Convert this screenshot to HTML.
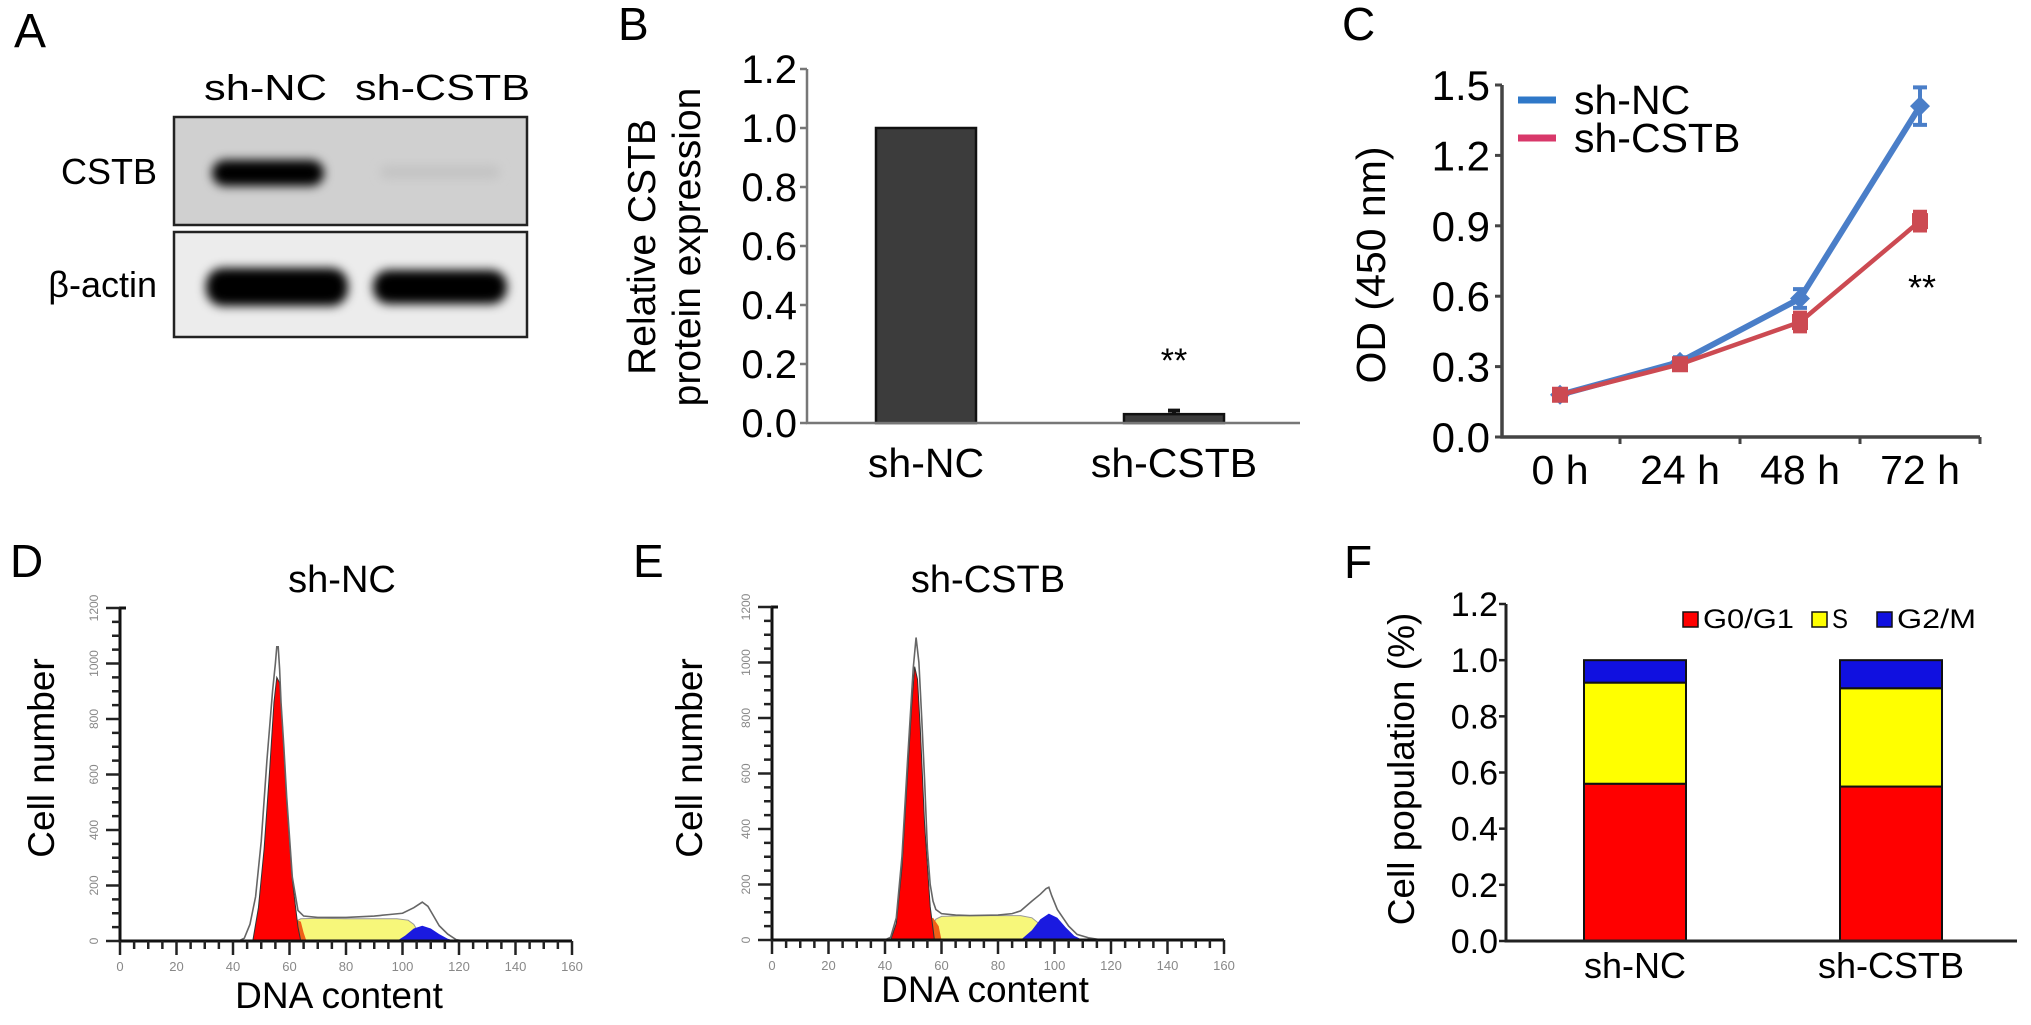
<!DOCTYPE html>
<html><head><meta charset="utf-8"><style>
html,body{margin:0;padding:0;background:#fff;width:2031px;height:1025px;overflow:hidden}
svg{display:block;font-family:"Liberation Sans",Arial,sans-serif}
</style></head><body>
<svg id="fig" width="2031" height="1025" viewBox="0 0 2031 1025" xmlns="http://www.w3.org/2000/svg">
<defs>
<filter id="blur4" x="-20%" y="-50%" width="140%" height="200%"><feGaussianBlur stdDeviation="5"/></filter>
</defs>
<g id="panelA">
<text x="14" y="47" font-size="48">A</text>
<text x="204" y="100" font-size="36" textLength="123" lengthAdjust="spacingAndGlyphs">sh-NC</text>
<text x="355" y="100" font-size="36" textLength="175" lengthAdjust="spacingAndGlyphs">sh-CSTB</text>
<rect x="174" y="117" width="353" height="108" fill="#d0d0d0" stroke="#222" stroke-width="2.5"/>
<rect x="212" y="160" width="112" height="26" rx="13" fill="#000" filter="url(#blur4)"/>
<rect x="380" y="165" width="120" height="14" rx="7" fill="#c4c4c4" filter="url(#blur4)"/>
<rect x="174" y="232" width="353" height="105" fill="#ececec" stroke="#222" stroke-width="2.5"/>
<rect x="206" y="268" width="142" height="38" rx="17" fill="#000" filter="url(#blur4)"/>
<rect x="373" y="270" width="134" height="34" rx="16" fill="#000" filter="url(#blur4)"/>
<text x="157" y="184" font-size="36" text-anchor="end">CSTB</text>
<text x="157" y="297" font-size="36" text-anchor="end">β-actin</text>
</g>
<g id="panelB"></g>
<g id="panelC"></g>
<g id="panelD"></g>
<g id="panelE"></g>
<g id="panelF"></g>
</svg>
<script>
// ---------- data ----------
const bCategories = ["sh-NC","sh-CSTB"];
const bValues = [1.0, 0.03];
const bErrors = [0.0, 0.012];
const bTicks = ["0.0","0.2","0.4","0.6","0.8","1.0","1.2"];

const cCategories = ["0 h","24 h","48 h","72 h"];
const cNC = [0.18, 0.32, 0.59, 1.41];
const cNCerr = [0.02, 0.02, 0.04, 0.08];
const cCSTB = [0.18, 0.31, 0.49, 0.92];
const cCSTBerr = [0.02, 0.02, 0.04, 0.04];
const cTicks = ["0.0","0.3","0.6","0.9","1.2","1.5"];

const histXTicks = ["0","20","40","60","80","100","120","140","160"];
const histYTicks = ["0","200","400","600","800","1000","1200"];
const dRedX = [47,49,51,53,54.5,55.5,56.5,57.5,59,61,63,64];
const dRedY = [0,120,330,620,860,950,930,780,500,220,50,0];
const dOrangeX = [56,58,60,62,64,65,66];
const dOrangeY = [0,30,60,78,70,30,0];
const dYellowX = [58,60,62,64,70,80,90,98,102,104,106,107];
const dYellowY = [0,40,70,80,82,80,80,80,75,60,25,0];
const dBlueX = [98,101,104,107,110,113,116,119];
const dBlueY = [0,20,45,55,45,25,8,0];
const dTotalX = [25,42,44,46,48,50,52,54,55,55.5,56,56.5,57,58,59,61,63,65,70,80,90,95,100,104,107,109,111,113,116,119,122];
const dTotalY = [0,0,10,60,160,360,650,900,1000,1060,1060,980,860,700,520,230,110,90,85,85,90,95,100,120,140,125,90,55,25,5,0];
const eRedX = [42,44,46,48,49.5,50.5,51.5,52.5,54,56,57.5];
const eRedY = [0,60,260,600,850,985,940,760,420,120,0];
const eOrangeX = [51,53,55,57,59,60];
const eOrangeY = [0,40,70,80,50,0];
const eYellowX = [54,56,58,60,70,80,88,92,95,97,98];
const eYellowY = [0,40,75,85,88,88,88,80,55,20,0];
const eBlueX = [88,92,95,98,101,104,107,110];
const eBlueY = [0,35,75,95,80,45,15,0];
const eTotalX = [34,40,42,44,46,48,50,51,52,53,54,55,56,57,58,60,65,70,80,85,88,92,95,97,98,99,101,103,105,108,112,117];
const eTotalY = [0,0,10,80,300,650,980,1090,1000,800,580,330,200,140,110,95,90,88,90,95,105,140,165,185,190,160,110,80,50,20,8,0];

const fCategories = ["sh-NC","sh-CSTB"];
const fG1 = [0.56, 0.55];
const fS = [0.36, 0.35];
const fG2 = [0.08, 0.10];
const fTicks = ["0.0","0.2","0.4","0.6","0.8","1.0","1.2"];
const fLegend = ["G0/G1","S","G2/M"];

// ---------- helpers ----------
const NS = "http://www.w3.org/2000/svg";
function mk(parent, tag, attrs, text){
  const el = document.createElementNS(NS, tag);
  for (const k in attrs) el.setAttribute(k, attrs[k]);
  if (text !== undefined) el.textContent = text;
  parent.appendChild(el);
  return el;
}
const B = document.getElementById("panelB");
const C = document.getElementById("panelC");
const D = document.getElementById("panelD");
const E = document.getElementById("panelE");
const F = document.getElementById("panelF");

// ---------- Panel B ----------
(function(){
  const x0 = 807, x1 = 1300, yb = 423, yt = 69, vmax = 1.2;
  const y = v => yb - v / vmax * (yb - yt);
  const centers = [926, 1174], bw = 100;
  let t = mk(B,"text",{x:618,y:40,"font-size":46});
  t.textContent = "B";
  
  
  bValues.forEach((v,i)=>{
    const r = mk(B,"rect",{x:centers[i]-bw/2,y:y(v),width:bw,height:yb-y(v),fill:"#3c3c3c",stroke:"#111","stroke-width":2.5});
    
    
    if (bErrors[i] > 0){
      const e = mk(B,"path",{d:`M${centers[i]} ${y(v)} V${y(v+bErrors[i])} M${centers[i]-6} ${y(v+bErrors[i])} H${centers[i]+6}`,stroke:"#111","stroke-width":4});
      
      
    }
    const l = mk(B,"text",{x:centers[i],y:477,"font-size":41,"text-anchor":"middle"},bCategories[i]);
    
    
  });
  const ax = mk(B,"path",{d:`M${x0} ${yt} V${yb} H${x1}`,stroke:"#777","stroke-width":2.5,fill:"none"});
  
  
  bTicks.forEach(s=>{
    const yy = y(parseFloat(s));
    mk(B,"line",{x1:x0-7,x2:x0,y1:yy,y2:yy,stroke:"#777","stroke-width":2.5});
    const tl = mk(B,"text",{x:797,y:yy+14,"font-size":40,"text-anchor":"end"},s);
    
    
  });
  const st = mk(B,"text",{x:centers[1],y:372,"font-size":34,"text-anchor":"middle"},"**");
  
  
  const t1 = mk(B,"text",{transform:"translate(655,247) rotate(-90)","font-size":39,"text-anchor":"middle"},"Relative CSTB");
  
  
  const t2 = mk(B,"text",{transform:"translate(700,247) rotate(-90)","font-size":39,"text-anchor":"middle"},"protein expression");
  
  
})();

// ---------- Panel C ----------
(function(){
  const x0 = 1502, x1 = 1980, yb = 437, yt = 85, vmax = 1.5;
  const y = v => yb - v / vmax * (yb - yt);
  const xs = i => 1560 + i * 120;
  let t = mk(C,"text",{x:1342,y:40,"font-size":46},"C");
  
  
  const ax = mk(C,"path",{d:`M${x0} ${yt} V${yb} H${x1}`,stroke:"#444","stroke-width":3.5,fill:"none"});
  
  
  cTicks.forEach(s=>{
    const yy = y(parseFloat(s));
    mk(C,"line",{x1:x0-7,x2:x0,y1:yy,y2:yy,stroke:"#444","stroke-width":3});
    const tl = mk(C,"text",{x:1490,y:yy+15,"font-size":42,"text-anchor":"end"},s);
    
    
  });
  cCategories.forEach((c,i)=>{
    mk(C,"line",{x1:xs(i)+60,x2:xs(i)+60,y1:yb,y2:yb+7,stroke:"#444","stroke-width":3});
    const tl = mk(C,"text",{x:xs(i),y:484,"font-size":41,"text-anchor":"middle"},c);
    
    
  });
  function series(vals, errs, col, w, name, marker){
    const g = mk(C,"g",{});
    
    
    const pts = vals.map((v,i)=>xs(i)+","+y(v)).join(" ");
    const pl = mk(g,"polyline",{points:pts,fill:"none",stroke:col,"stroke-width":w,"stroke-linejoin":"round"});
    
    
    vals.forEach((v,i)=>{
      const cx = xs(i), cy = y(v), e = errs[i];
      mk(g,"path",{d:`M${cx} ${y(v+e)} V${y(v-e)} M${cx-7} ${y(v+e)} H${cx+7} M${cx-7} ${y(v-e)} H${cx+7}`,stroke:col,"stroke-width":4});
      let m;
      if (marker==="diamond") m = mk(g,"path",{d:`M${cx} ${cy-10} L${cx+10} ${cy} L${cx} ${cy+10} L${cx-10} ${cy} Z`,fill:col});
      else m = mk(g,"rect",{x:cx-8,y:cy-8,width:16,height:16,fill:col});
      
      
    });
  }
  series(cNC, cNCerr, "#4a7ec8", 6, "sh-nc", "diamond");
  series(cCSTB, cCSTBerr, "#cc4a52", 4.5, "sh-cstb", "square");
  const st = mk(C,"text",{x:1922,y:300,"font-size":36,"text-anchor":"middle"},"**");
  
  
  const lg = mk(C,"g",{});
  
  
  mk(lg,"line",{x1:1518,x2:1556,y1:100,y2:100,stroke:"#2f78c8","stroke-width":7});
  let lt = mk(lg,"text",{x:1574,y:114,"font-size":41},"sh-NC");
  
  
  mk(lg,"line",{x1:1518,x2:1556,y1:138,y2:138,stroke:"#d8386a","stroke-width":7});
  lt = mk(lg,"text",{x:1574,y:152,"font-size":41},"sh-CSTB");
  
  
  const yt2 = mk(C,"text",{transform:"translate(1385,265) rotate(-90)","font-size":41,"text-anchor":"middle"},"OD (450 nm)");
  
  
})();

// ---------- Panels D, E ----------
function histogram(G, cfg){
  const {ax0, yb, yt, x160, letter, lx, title, tx, cellX, dnaX, dnaY, comps} = cfg;
  const X = v => ax0 + v / 160 * (x160 - ax0);
  const Y = v => yb - v / 1200 * (yb - yt);
  let t = mk(G,"text",{x:lx,y:577,"font-size":46},letter);
  
  
  t = mk(G,"text",{x:tx,y:592,"font-size":38,"text-anchor":"middle"},title);
  
  
  function poly(xsArr, ysArr, fill, name, stroke){
    const pts = xsArr.map((v,i)=>X(v)+","+Y(ysArr[i])).join(" ");
    const p = mk(G,"polygon",{points:pts,fill:fill,stroke:stroke||"none","stroke-width":1});
    
    
  }
  poly(comps.yX, comps.yY, "#f7f77a", "s-phase-area", "#999");
  poly(comps.oX, comps.oY, "#f06018", "overlap-area");
  poly(comps.bX, comps.bY, "#1a1ae0", "g2m-peak-area");
  poly(comps.rX, comps.rY, "#ff0000", "g1-peak-area", "#333");
  const pts = comps.tX.map((v,i)=>X(v)+","+Y(comps.tY[i])).join(" ");
  const tl = mk(G,"polyline",{points:pts,fill:"none",stroke:"#666","stroke-width":1.6});
  
  
  const ax = mk(G,"path",{d:`M${ax0} ${yt} V${yb} H${x160}`,stroke:"#111","stroke-width":3,fill:"none"});
  
  
  mk(G,"line",{x1:ax0-1,x2:ax0+6,y1:yt,y2:yt,stroke:"#111","stroke-width":3});
  for (let v=0; v<=1200; v+=50){
    const major = v%200===0;
    mk(G,"line",{x1:ax0-(major?14:8),x2:ax0,y1:Y(v),y2:Y(v),stroke:"#222","stroke-width":2.5});
  }
  for (let v=0; v<=160; v+=5){
    const major = v%20===0;
    mk(G,"line",{x1:X(v),x2:X(v),y1:yb,y2:yb+(major?14:8),stroke:"#222","stroke-width":2.5});
  }
  histYTicks.forEach(s=>{
    const yl = mk(G,"text",{transform:`translate(${ax0-22},${Y(+s)}) rotate(-90)`,"font-size":12,fill:"#888","text-anchor":"middle"},s);
    
    
  });
  histXTicks.forEach(s=>{
    const xl = mk(G,"text",{x:X(+s),y:yb+30,"font-size":13,fill:"#888","text-anchor":"middle"},s);
    
    
  });
  t = mk(G,"text",{transform:`translate(${cellX},758) rotate(-90)`,"font-size":37,"text-anchor":"middle"},"Cell number");
  
  
  t = mk(G,"text",{x:dnaX,y:dnaY,"font-size":37,"text-anchor":"middle"},"DNA content");
  
  
}
histogram(D,{ax0:120,yb:941,yt:608,x160:572,letter:"D",lx:10,title:"sh-NC",tx:342,cellX:54,dnaX:339,dnaY:1008,
  comps:{rX:dRedX,rY:dRedY,oX:dOrangeX,oY:dOrangeY,yX:dYellowX,yY:dYellowY,bX:dBlueX,bY:dBlueY,tX:dTotalX,tY:dTotalY}});
histogram(E,{ax0:772,yb:940,yt:607,x160:1224,letter:"E",lx:633,title:"sh-CSTB",tx:988,cellX:702,dnaX:985,dnaY:1002,
  comps:{rX:eRedX,rY:eRedY,oX:eOrangeX,oY:eOrangeY,yX:eYellowX,yY:eYellowY,bX:eBlueX,bY:eBlueY,tX:eTotalX,tY:eTotalY}});

// ---------- Panel F ----------
(function(){
  const x0 = 1506, x1 = 2017, yb = 941, yt = 604, vmax = 1.2;
  const y = v => yb - v / vmax * (yb - yt);
  const centers = [1635, 1891], bw = 102;
  let t = mk(F,"text",{x:1344,y:578,"font-size":46},"F");
  
  
  const cols = ["#ff0000","#ffff00","#1010e0"];
  const names = ["g0g1","s","g2m"];
  fCategories.forEach((c,i)=>{
    const segs = [fG1[i], fS[i], fG2[i]];
    let base = 0;
    segs.forEach((v,k)=>{
      const r = mk(F,"rect",{x:centers[i]-bw/2,y:y(base+v),width:bw,height:y(base)-y(base+v),fill:cols[k],stroke:"#111","stroke-width":2});
      
      
      base += v;
    });
    const l = mk(F,"text",{x:centers[i],y:978,"font-size":36,"text-anchor":"middle"},c);
    
    
  });
  const ax = mk(F,"path",{d:`M${x0} ${yt} V${yb} H${x1}`,stroke:"#222","stroke-width":3,fill:"none"});
  
  
  fTicks.forEach(s=>{
    const yy = y(parseFloat(s));
    mk(F,"line",{x1:x0-7,x2:x0,y1:yy,y2:yy,stroke:"#222","stroke-width":2.5});
    const tl = mk(F,"text",{x:1498,y:yy+12,"font-size":34,"text-anchor":"end"},s);
    
    
  });
  const lx = [1683, 1812, 1877], tw = [91, 16, 79];
  fLegend.forEach((s,k)=>{
    const sq = mk(F,"rect",{x:lx[k],y:612,width:15,height:15,fill:cols[k],stroke:"#111","stroke-width":1.5});
    
    
    const lt = mk(F,"text",{x:lx[k]+20,y:628,"font-size":27,textLength:tw[k],lengthAdjust:"spacingAndGlyphs"},s);
    
    
  });
  t = mk(F,"text",{transform:"translate(1414,769) rotate(-90)","font-size":37,"text-anchor":"middle"},"Cell population (%)");
  
  
})();
</script>
</body></html>
